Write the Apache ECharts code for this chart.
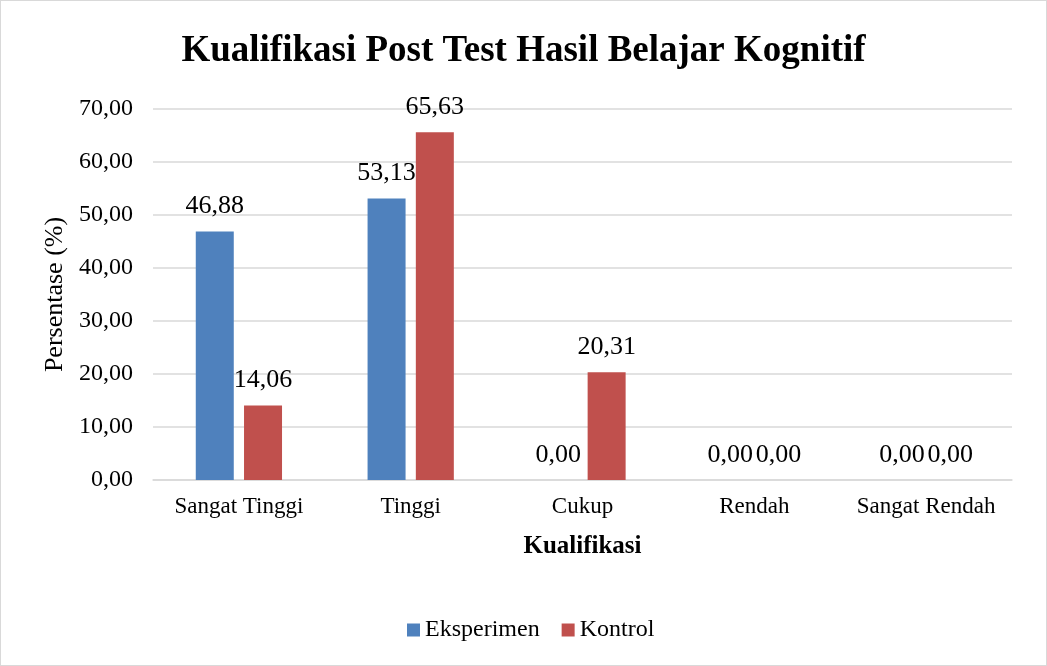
<!DOCTYPE html>
<html>
<head>
<meta charset="utf-8">
<script src="https://cdn.jsdelivr.net/npm/echarts@6/dist/echarts.min.js"></script>
<style>
  html, body { margin: 0; padding: 0; background: #fff; }
  #chart { width: 1047px; height: 666px; box-sizing: border-box; border: 1.5px solid #d9d9d9; }
</style>
</head>
<body>
<div id="chart"></div>
<script>
// Categories and percentages for each group
const categories = ['Sangat Tinggi', 'Tinggi', 'Cukup', 'Rendah', 'Sangat Rendah'];
const eksperimen = [46.88, 53.13, 0.00, 0.00, 0.00];
const kontrol = [14.06, 65.63, 20.31, 0.00, 0.00];
const yTicks = { min: 0, max: 70, interval: 10 };

const serif = '"Liberation Serif", "Times New Roman", serif';
const fmt = v => Number(v).toFixed(2).replace('.', ',');

const chart = echarts.init(document.getElementById('chart'), null, { renderer: 'canvas' });

const valueLabel = {
  show: true,
  position: 'top',
  distance: 12,
  fontFamily: serif,
  fontSize: 26,
  color: '#000',
  formatter: p => fmt(p.value)
};

chart.setOption({
  animation: false,
  title: {
    text: 'Kualifikasi Post Test Hasil Belajar Kognitif',
    left: 'center',
    top: 27,
    textStyle: { fontFamily: serif, fontSize: 37, fontWeight: 'bold', color: '#000' }
  },
  legend: {
    bottom: 18,
    left: 401,
    itemWidth: 13,
    itemHeight: 13,
    itemGap: 22,
    icon: 'rect',
    textStyle: { fontFamily: serif, fontSize: 24, color: '#000' },
    data: ['Eksperimen', 'Kontrol']
  },
  grid: { left: 152, right: 34, top: 108, height: 371, containLabel: false },
  xAxis: {
    type: 'category',
    data: categories,
    name: 'Kualifikasi',
    nameLocation: 'middle',
    nameGap: 54,
    nameTextStyle: { fontFamily: serif, fontSize: 25, fontWeight: 'bold', color: '#000' },
    axisLine: { lineStyle: { color: '#d9d9d9', width: 1.5 } },
    axisTick: { show: false },
    axisLabel: { interval: 0, fontFamily: serif, fontSize: 23, color: '#000', margin: 15 }
  },
  yAxis: {
    type: 'value',
    min: yTicks.min,
    max: yTicks.max,
    interval: yTicks.interval,
    name: 'Persentase (%)',
    nameLocation: 'middle',
    nameGap: 82,
    nameRotate: 90,
    nameTextStyle: { fontFamily: serif, fontSize: 26, color: '#000' },
    axisLine: { show: false },
    axisTick: { show: false },
    splitLine: { lineStyle: { color: '#d9d9d9', width: 1.5 } },
    axisLabel: { fontFamily: serif, fontSize: 24, color: '#000', margin: 20, formatter: v => fmt(v) }
  },
  series: [
    {
      name: 'Eksperimen',
      type: 'bar',
      data: eksperimen,
      barWidth: 38,
      barGap: '27%',
      itemStyle: { color: '#4F81BD' },
      label: valueLabel
    },
    {
      name: 'Kontrol',
      type: 'bar',
      data: kontrol,
      barWidth: 38,
      itemStyle: { color: '#C0504D' },
      label: valueLabel
    }
  ]
});
</script>
</body>
</html>
